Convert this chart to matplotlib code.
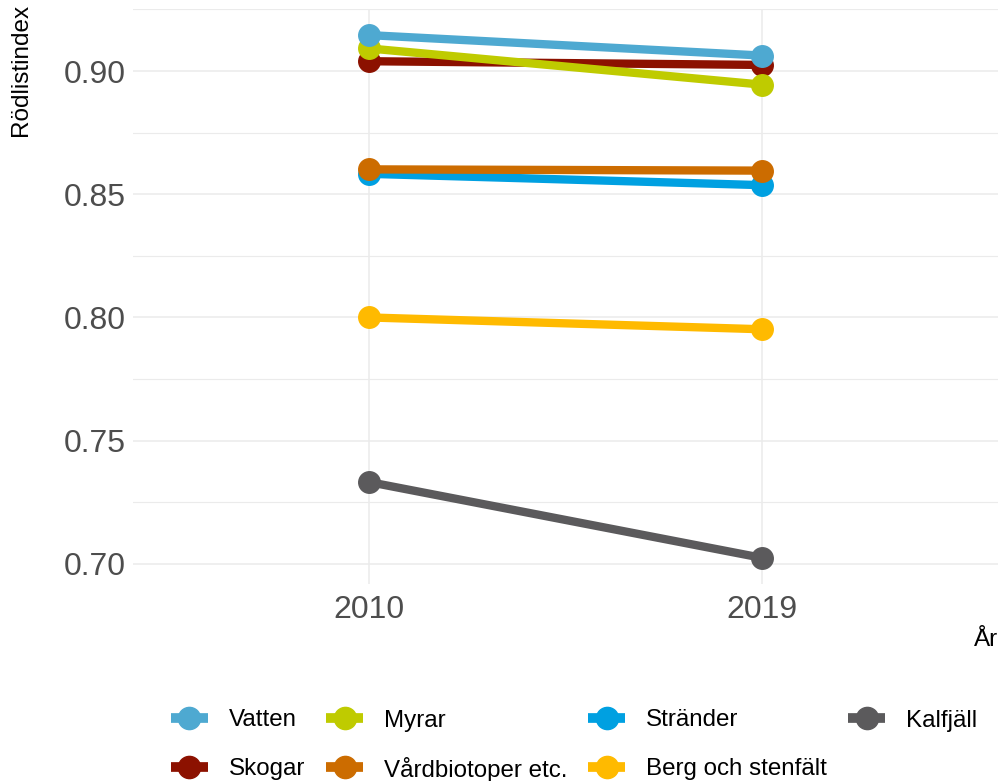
import matplotlib
matplotlib.use("Agg")
import matplotlib.pyplot as plt
from matplotlib.lines import Line2D
from matplotlib.ticker import MultipleLocator

plt.rcParams['font.family'] = ['Liberation Sans', 'DejaVu Sans']

years = ['2010', '2019']
categories = ['Vatten', 'Skogar', 'Myrar', 'Vårdbiotoper etc.', 'Stränder', 'Berg och stenfält', 'Kalfjäll']
vatten = [0.9146, 0.9063]
skogar = [0.9040, 0.9025]
myrar = [0.9092, 0.8945]
vardbiotoper = [0.8601, 0.8596]
strander = [0.8583, 0.8537]
berg = [0.8000, 0.7952]
kalfjall = [0.7332, 0.7024]
values = [vatten, skogar, myrar, vardbiotoper, strander, berg, kalfjall]
colors = ['#4EA9D1', '#8C1100', '#BFCB00', '#CC6C00', '#00A0E1', '#FFBA00', '#5B5A5C']
zorders = [7, 3, 5, 6, 4, 3, 3]

W, H = 1000, 781
fig = plt.figure(figsize=(W / 100, H / 100), dpi=100)
ax = fig.add_axes([0.133, 1 - 584 / H, 0.998 - 0.133, (584 - 9) / H])

for name, vals, col, z in zip(categories, values, colors, zorders):
    ax.plot(years, vals, color=col, lw=6.0, solid_capstyle='butt', zorder=z,
            marker='o', markersize=15.5, label=name)

ax.set_xlim(-0.6, 1.6)
ax.set_ylim(0.6918, 0.9252)
ax.yaxis.set_major_locator(MultipleLocator(0.05))
ax.yaxis.set_minor_locator(MultipleLocator(0.025))
ax.yaxis.set_major_formatter(matplotlib.ticker.FormatStrFormatter('%.2f'))

for s in ax.spines.values():
    s.set_visible(False)
ax.grid(True, which='major', color='#EBEBEB', lw=1.1, zorder=0)
ax.grid(True, which='minor', axis='y', color='#EBEBEB', lw=0.8, zorder=0)
ax.set_axisbelow(True)
ax.tick_params(which='both', length=0)
ax.tick_params(axis='y', labelsize=23, labelcolor='#4D4D4D', pad=5)
ax.tick_params(axis='x', labelsize=23, labelcolor='#4D4D4D', pad=8)

fig.text(0.021, 1 - 4 / H, 'Rödlistindex', rotation=90, ha='center', va='top', fontsize=17.5)
fig.text(0.998, 1 - 640 / H, 'År', ha='right', va='center', fontsize=17.5)

# Legend: 2 rows x 4 columns, filled column-wise (like ggplot)
fig.canvas.draw()
renderer = fig.canvas.get_renderer()
leg_fs = 17.4
key_len, key_gap, col_gap = 37, 21, 21
row_y = [718, 767]
nrow = 2
ncol = 4
entries = list(zip(categories, colors))
columns = [entries[i * nrow:(i + 1) * nrow] for i in range(ncol)]
texts = []
col_widths = []
for colent in columns:
    wmax = 0
    for name, c in colent:
        t = fig.text(0, 0, name, fontsize=leg_fs, color='black')
        wmax = max(wmax, t.get_window_extent(renderer).width)
        texts.append(t)
    col_widths.append(wmax)
total = sum(key_len + key_gap + w for w in col_widths) + col_gap * (ncol - 1)
x = 574 - total / 2
k = 0
for ci, colent in enumerate(columns):
    for ri, (name, c) in enumerate(colent):
        yf = 1 - row_y[ri] / H
        fig.add_artist(Line2D([x / W, (x + key_len) / W], [yf, yf], transform=fig.transFigure,
                              color=c, lw=7.0, solid_capstyle='butt'))
        fig.add_artist(Line2D([(x + key_len / 2) / W], [yf], transform=fig.transFigure,
                              color=c, marker='o', markersize=16, lw=0))
        t = texts[k]
        t.set_position(((x + key_len + key_gap) / W, yf))
        t.set_va('center_baseline')
        t.set_ha('left')
        k += 1
    x += key_len + key_gap + col_widths[ci] + col_gap

fig.savefig('out.png', dpi=100)
